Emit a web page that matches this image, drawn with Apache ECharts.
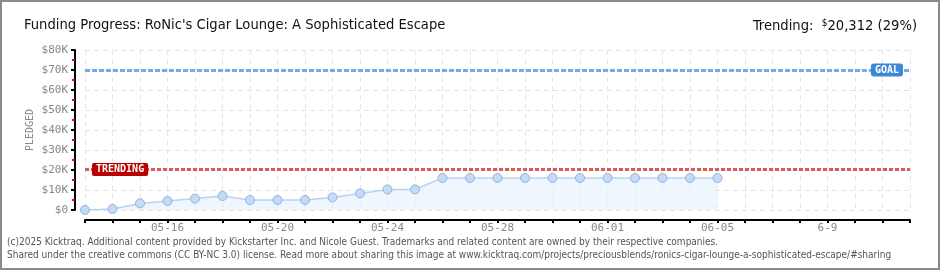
<!DOCTYPE html>
<html>
<head>
<meta charset="utf-8">
<script src="https://cdn.jsdelivr.net/npm/echarts@6/dist/echarts.min.js"></script>
<style>
  html, body { margin: 0; padding: 0; background: #fff; }
  #wrap { position: relative; width: 940px; height: 270px; }
  #chart { width: 940px; height: 270px; }
  #frame { position: absolute; left: 0; top: 0; width: 940px; height: 270px; box-sizing: border-box; border: 2px solid #8a8a8a; pointer-events: none; }
</style>
</head>
<body>
<div id="wrap">
  <div id="chart"></div>
  <div id="frame"></div>
</div>
<script>
// days shown on the x axis (05-13 .. 06-12)
const days = [
  "05-13", "05-14", "05-15", "05-16", "05-17", "05-18", "05-19", "05-20",
  "05-21", "05-22", "05-23", "05-24", "05-25", "05-26", "05-27", "05-28",
  "05-29", "05-30", "05-31", "06-01", "06-02", "06-03", "06-04", "06-05",
  "06-06", "06-07", "06-08", "6-9", "06-10", "06-11", "06-12"
];
// pledged total per day, in dollars
const pledged = [
  0, 500, 3300, 4500, 5700, 7000, 5000, 5000, 5000, 6300, 8300, 10300,
  10300, 16000, 16000, 16000, 16000, 16000, 16000, 16000, 16000, 16000, 16000, 16000
];
const goal = 70000;
const trending = 20312;
const trendingPct = 29;
const yTicks = [0, 10000, 20000, 30000, 40000, 50000, 60000, 70000, 80000];

const chart = echarts.init(document.getElementById("chart"));

const option = {
  backgroundColor: "#fff",
  animation: false,
  title: [
    {
      text: "Funding Progress: RoNic's Cigar Lounge: A Sophisticated Escape",
      left: 19,
      top: 13,
      textStyle: { fontFamily: "DejaVu Sans Condensed", fontSize: 14.6, fontWeight: "normal", color: "#111" },
    },
    {
      text: "{t|Trending:  }{s|$}{t|" + trending.toLocaleString("en-US") + " (" + trendingPct + "%)}",
      right: 18,
      top: 13,
      textStyle: {
        rich: {
          t: { fontFamily: "DejaVu Sans Condensed", fontSize: 14.6, fontWeight: "normal", color: "#111" },
          s: { fontFamily: "DejaVu Sans Condensed", fontSize: 10, fontWeight: "normal", color: "#111", verticalAlign: "top", padding: [0, 0, 6, 0] },
        },
      },
    },
  ],
  graphic: [
    {
      type: "text",
      left: 7,
      top: 236,
      style: {
        text: "(c)2025 Kicktraq. Additional content provided by Kickstarter Inc. and Nicole Guest. Trademarks and related content are owned by their respective companies.\nShared under the creative commons (CC BY-NC 3.0) license. Read more about sharing this image at www.kicktraq.com/projects/preciousblends/ronics-cigar-lounge-a-sophisticated-escape/#sharing",
        font: "10px 'DejaVu Sans Condensed'",
        fill: "#555",
        lineHeight: 13,
      },
    },
  ],
  grid: { left: 85, right: 30, top: 50, bottom: 60 },
  xAxis: {
    type: "category",
    data: days,
    boundaryGap: false,
    offset: 10,
    axisLine: { onZero: false, lineStyle: { color: "#000", width: 2 } },
    axisTick: { show: true, interval: 0, length: 3, lineStyle: { color: "#000", width: 2 } },
    axisLabel: {
      interval: (i) => (i - 3) % 4 === 0,
      color: "#888",
      fontFamily: "DejaVu Sans Mono",
      fontSize: 11,
      margin: 3,
    },
    splitLine: { show: true, interval: 0, lineStyle: { color: "#e6e6e6", type: [5, 4] } },
  },
  yAxis: {
    type: "value",
    min: yTicks[0],
    max: yTicks[yTicks.length - 1],
    interval: yTicks[1] - yTicks[0],
    offset: 10,
    name: "PLEDGED",
    nameLocation: "middle",
    nameGap: 40,
    nameMoveOverlap: false,
    nameTextStyle: { color: "#888", fontFamily: "DejaVu Sans Mono", fontSize: 10 },
    axisLine: { show: true, onZero: false, lineStyle: { color: "#000", width: 2 } },
    axisTick: { show: true, length: 4, lineStyle: { color: "#000", width: 2 } },
    minorTick: { show: true, splitNumber: 2, length: 3, lineStyle: { color: "#e00", width: 2 } },
    axisLabel: {
      color: "#888",
      fontFamily: "DejaVu Sans Mono",
      fontSize: 11,
      margin: 7,
      formatter: (v) => (v === 0 ? "$0" : "$" + v / 1000 + "K"),
    },
    splitLine: { show: true, lineStyle: { color: "#e3e3e3", type: [5, 4] } },
  },
  series: [
    {
      type: "line",
      data: pledged,
      symbol: "circle",
      symbolSize: 9,
      itemStyle: { color: "#c3dbf6", borderColor: "#93b3da", borderWidth: 1 },
      lineStyle: { color: "#b7d3f2", width: 1.5 },
      areaStyle: { color: "#eaf2fc" },
      markLine: {
        silent: true,
        symbol: "none",
        data: [
          {
            yAxis: goal,
            lineStyle: { color: "#77aae6", width: 3, type: [5, 2] },
            label: {
              formatter: "GOAL",
              position: "insideEnd",
              distance: [7, -6],
              color: "#fff",
              backgroundColor: "#3d87d8",
              borderRadius: 3,
              padding: [2, 4, 1, 4],
              fontFamily: "DejaVu Sans Mono",
              fontWeight: "bold",
              fontSize: 10,
            },
          },
          {
            yAxis: trending,
            lineStyle: { color: "#dd5a5a", width: 3, type: [4, 2] },
            label: {
              formatter: "TRENDING",
              position: "insideStart",
              distance: [7, -6],
              color: "#fff",
              backgroundColor: "#b90000",
              borderRadius: 2,
              padding: [2, 4, 1, 4],
              fontFamily: "DejaVu Sans Mono",
              fontWeight: "bold",
              fontSize: 10,
            },
          },
        ],
      },
    },
  ],
};

chart.setOption(option);
</script>
</body>
</html>
